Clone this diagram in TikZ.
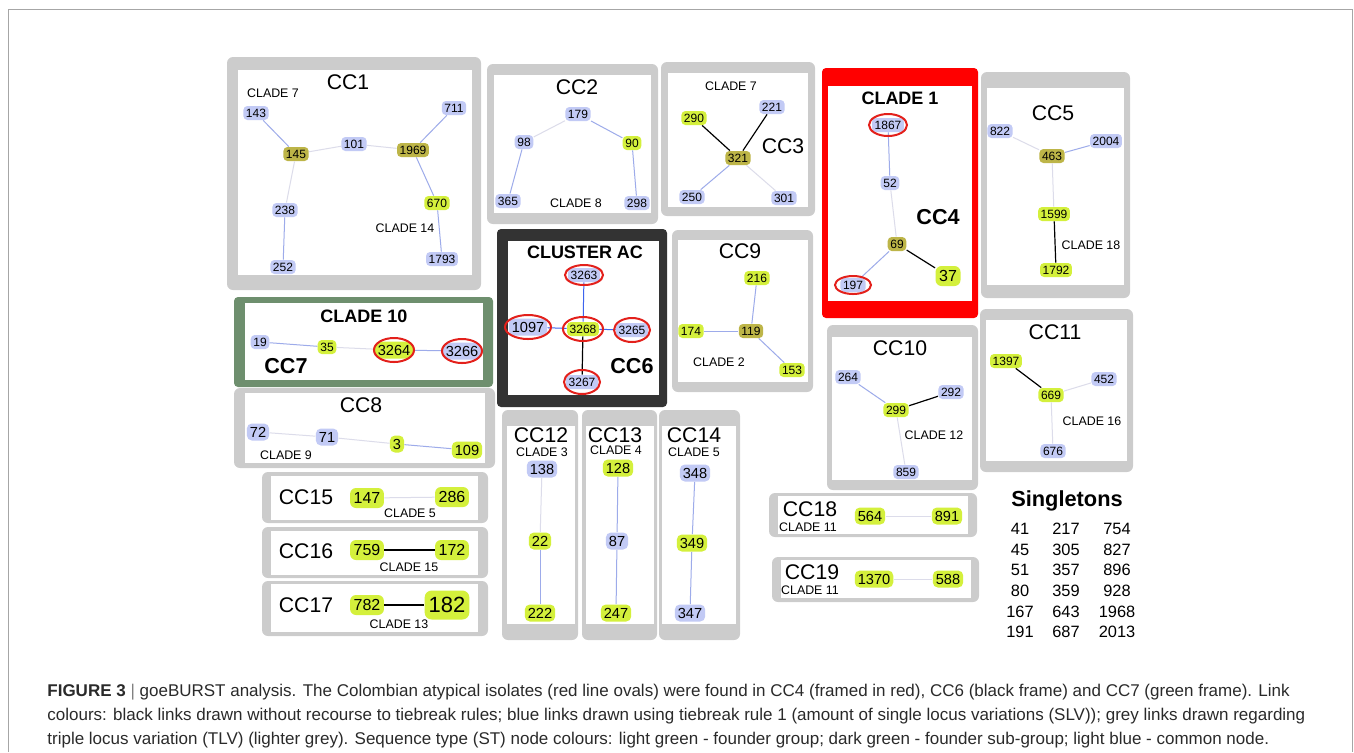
\documentclass[tikz,border=0pt]{standalone}
\usepackage{fontspec}
\setmainfont{Liberation Sans}
\definecolor{Frame}{HTML}{CCCCCC}
\definecolor{RedFrame}{HTML}{FF0000}
\definecolor{GreenFrame}{HTML}{6E8F6E}
\definecolor{BlackFrame}{HTML}{333333}
\definecolor{NodeBlue}{HTML}{C2CAF5}
\definecolor{NodeGreen}{HTML}{D4F03C}
\definecolor{NodeOlive}{HTML}{BDB548}
\definecolor{LinkBlue}{HTML}{9DABEA}
\definecolor{LinkStrong}{HTML}{3D64EE}
\definecolor{LinkGrey}{HTML}{DCDCEA}
\definecolor{RingRed}{HTML}{E3201B}
\definecolor{CapText}{HTML}{2A2A2A}
\tikzset{
    frame/.style={fill=Frame, rounded corners=3pt},
    inner/.style={fill=white},
    st/.style={rectangle, rounded corners=2pt, inner xsep=1.3pt, inner ysep=0pt, minimum height=7pt, text=black, font=\fontsize{6}{6}\selectfont},
    common/.style={st, fill=NodeBlue},
    founder/.style={st, fill=NodeGreen},
    subfounder/.style={st, fill=NodeOlive},
    mid/.style={font=\fontsize{7.3}{8}\selectfont, minimum height=8.5pt, inner xsep=1.5pt, rounded corners=2.5pt},
    big/.style={font=\fontsize{8}{9}\selectfont, minimum height=10pt, inner xsep=1.8pt, rounded corners=3pt},
    huge/.style={font=\fontsize{11}{12}\selectfont, minimum height=14.5pt, inner xsep=2pt, rounded corners=3.5pt},
    ccname/.style={font=\fontsize{10.6}{12}\selectfont, inner sep=0.5pt},
    ccbold/.style={font=\bfseries\fontsize{10.8}{12}\selectfont, inner sep=0.5pt},
    clade/.style={font=\fontsize{6.2}{7}\selectfont, inner sep=0.5pt},
    cladebold/.style={font=\bfseries\fontsize{9}{10}\selectfont, inner sep=0.5pt},
    slv/.style={draw=LinkBlue, line width=0.5pt},
    slvdark/.style={draw=LinkStrong, line width=0.5pt},
    tlv/.style={draw=LinkGrey, line width=0.5pt},
    direct/.style={draw=black, line width=0.6pt},
    ring/.style={draw=RingRed, line width=1pt},
    singlenum/.style={font=\fontsize{8.2}{9}\selectfont},
    caption/.style={font=\fontsize{8.5}{10}\selectfont, text=CapText, inner sep=0pt},
}
\begin{document}
\begin{tikzpicture}[x=0.5pt, y=-0.5pt]
    \useasboundingbox (0,0) rectangle (1354,752);
    % outer frame
    \draw[gray!70, line width=0.5pt] (8.5,752) -- (8.5,9) -- (1352.5,9) -- (1352.5,752);

    % boxes
    \fill[frame] (227,57) rectangle (481,290);   \fill[inner] (238,70) rectangle (472,275);
    \fill[frame] (487,64) rectangle (658,224);   \fill[inner] (494,75) rectangle (651,213);
    \fill[frame] (661,62) rectangle (815,216);   \fill[inner] (668,73) rectangle (808,207);
    \fill[RedFrame, rounded corners=2pt] (822,68) rectangle (978,318); \fill[inner] (828,86) rectangle (972,301);
    \fill[frame] (981,72) rectangle (1130,298);  \fill[inner] (987,88) rectangle (1124,285);
    \fill[GreenFrame, rounded corners=2pt] (234,297) rectangle (493,387); \fill[inner] (245,303) rectangle (483,380);
    \fill[BlackFrame, rounded corners=2pt] (497,229) rectangle (667,407); \fill[inner] (508,241) rectangle (659,395);
    \fill[frame] (672,230) rectangle (813,392);  \fill[inner] (678,240) rectangle (808,382);
    \fill[frame] (827,325) rectangle (978,490);  \fill[inner] (832,337) rectangle (972,480);
    \fill[frame] (980,309) rectangle (1133,472); \fill[inner] (986,320) rectangle (1127,461);
    \fill[frame] (234,388) rectangle (495,468);  \fill[inner] (245,393) rectangle (485,463);
    \fill[frame] (262,472) rectangle (488,523);  \fill[inner] (271,476) rectangle (478,520);
    \fill[frame] (262,527) rectangle (488,578);  \fill[inner] (271,531) rectangle (478,575);
    \fill[frame] (262,581) rectangle (488,636);  \fill[inner] (271,584) rectangle (478,632);
    \fill[frame] (502,410) rectangle (578,640);  \fill[inner] (507,426) rectangle (575,624);
    \fill[frame] (582,410) rectangle (657,640);  \fill[inner] (586,426) rectangle (654,624);
    \fill[frame] (659,410) rectangle (740,640);  \fill[inner] (662,426) rectangle (736,624);
    \fill[frame] (769,493) rectangle (977,537);  \fill[inner] (778,496) rectangle (968,534);
    \fill[frame] (772,557) rectangle (979,602);  \fill[inner] (781,560) rectangle (971,598);

    % CC1
    \node[ccname] (cc1) at (348,82) {CC1};
    \node[clade] (cl7a) at (273,93) {CLADE 7};
    \node[clade] (cl14) at (405,228) {CLADE 14};
    \node[common] (n143) at (256,113) {143};
    \node[common] (n711) at (454,108) {711};
    \node[subfounder] (n145) at (296,154) {145};
    \node[common] (n101) at (354,144) {101};
    \node[subfounder] (n1969) at (413,150) {1969};
    \node[founder] (n670) at (437,203) {670};
    \node[common] (n238) at (285,210) {238};
    \node[common] (n252) at (283,267) {252};
    \node[common] (n1793) at (442,259) {1793};
    \draw[slv] (n143) -- (n145);
    \draw[tlv] (n145) -- (n101) -- (n1969);
    \draw[slv] (n1969) -- (n711);
    \draw[slv] (n1969) -- (n670) -- (n1793);
    \draw[tlv] (n145) -- (n238);
    \draw[slv] (n238) -- (n252);

    % CC2
    \node[ccname] (cc2) at (577,87) {CC2};
    \node[clade] (cl8) at (576,203) {CLADE 8};
    \node[common] (n179) at (578,114) {179};
    \node[common] (n98) at (524,142) {98};
    \node[founder] (n90) at (632,143) {90};
    \node[common] (n365) at (508,201) {365};
    \node[common] (n298) at (637,203) {298};
    \draw[tlv] (n179) -- (n98);
    \draw[slv] (n179) -- (n90) -- (n298);
    \draw[slv] (n98) -- (n365);

    % CC3
    \node[ccname] (cc3) at (783,146) {CC3};
    \node[clade] (cl7b) at (731,86) {CLADE 7};
    \node[founder] (n290) at (694,118) {290};
    \node[common] (n221) at (772,107) {221};
    \node[subfounder] (n321) at (738,158) {321};
    \node[common] (n250) at (692,197) {250};
    \node[common] (n301) at (784,198) {301};
    \draw[direct] (n290) -- (n321) -- (n221);
    \draw[slv] (n321) -- (n250);
    \draw[tlv] (n321) -- (n301);

    % CC4 (red frame)
    \node[cladebold] (cl1) at (900,98) {CLADE 1};
    \node[ccbold] (cc4) at (938,217) {CC4};
    \node[common] (n1867) at (888,125) {1867};
    \node[common] (n52) at (890,183) {52};
    \node[subfounder] (n69) at (897,244) {69};
    \node[founder, big] (n37) at (948,276) {37};
    \node[common] (n197) at (853,285) {197};
    \draw[slv] (n1867) -- (n52);
    \draw[tlv] (n52) -- (n69);
    \draw[slv] (n69) -- (n197);
    \draw[direct] (n69) -- (n37);
    \draw[ring] (n1867) ellipse (19 and 11);
    \draw[ring] (n197) ellipse (18 and 9);

    % CC5
    \node[ccname] (cc5) at (1053,113) {CC5};
    \node[clade] (cl18) at (1091,245) {CLADE 18};
    \node[common] (n822) at (1000,131) {822};
    \node[common] (n2004) at (1106,141) {2004};
    \node[subfounder] (n463) at (1052,156) {463};
    \node[founder] (n1599) at (1054,214) {1599};
    \node[founder] (n1792) at (1056,270) {1792};
    \draw[tlv] (n822) -- (n463);
    \draw[slv] (n463) -- (n2004);
    \draw[tlv] (n463) -- (n1599);
    \draw[direct] (n1599) -- (n1792);

    % CC7 (green frame)
    \node[cladebold] (cl10) at (364,316) {CLADE 10};
    \node[ccbold] (cc7) at (286,366) {CC7};
    \node[common] (n19) at (260,342) {19};
    \node[founder] (n35) at (327,347) {35};
    \node[founder, mid] (n3264) at (394,350) {3264};
    \node[common, mid] (n3266) at (462,351) {3266};
    \draw[slv] (n19) -- (n35);
    \draw[tlv] (n35) -- (n3264);
    \draw[slv] (n3264) -- (n3266);
    \draw[ring] (n3264) ellipse (20 and 12);
    \draw[ring] (n3266) ellipse (20 and 12);

    % CC6 (black frame)
    \node[cladebold] (clac) at (585,252) {CLUSTER AC};
    \node[ccbold] (cc6) at (632,366) {CC6};
    \node[common] (n3263) at (584,275) {3263};
    \node[common, mid] (n1097) at (528,327) {1097};
    \node[founder] (n3268) at (583,329) {3268};
    \node[common] (n3265) at (632,330) {3265};
    \node[common] (n3267) at (582,382) {3267};
    \draw[slvdark] (n3263) -- (n3268);
    \draw[slvdark] (n1097) -- (n3268) -- (n3265);
    \draw[direct] (n3268) -- (n3267);
    \draw[ring] (n3263) ellipse (19 and 10);
    \draw[ring] (n1097) ellipse (23 and 12);
    \draw[ring] (n3268) ellipse (20 and 12);
    \draw[ring] (n3265) ellipse (18 and 12);
    \draw[ring] (n3267) ellipse (18 and 12);

    % CC9
    \node[ccname] (cc9) at (740,251) {CC9};
    \node[clade] (cl2) at (719,362) {CLADE 2};
    \node[founder] (n216) at (757,278) {216};
    \node[founder] (n174) at (691,331) {174};
    \node[subfounder] (n119) at (751,331) {119};
    \node[founder] (n153) at (792,370) {153};
    \draw[slv] (n216) -- (n119) -- (n153);
    \draw[slv] (n174) -- (n119);

    % CC10
    \node[ccname] (cc10) at (900,348) {CC10};
    \node[clade] (cl12) at (934,435) {CLADE 12};
    \node[common] (n264) at (848,377) {264};
    \node[common] (n292) at (951,392) {292};
    \node[founder] (n299) at (896,410) {299};
    \node[common] (n859) at (906,472) {859};
    \draw[slv] (n264) -- (n299);
    \draw[direct] (n299) -- (n292);
    \draw[tlv] (n299) -- (n859);

    % CC11
    \node[ccname] (cc11) at (1055,332) {CC11};
    \node[clade] (cl16) at (1092,421) {CLADE 16};
    \node[founder] (n1397) at (1006,361) {1397};
    \node[common] (n452) at (1104,379) {452};
    \node[founder] (n669) at (1051,395) {669};
    \node[common] (n676) at (1053,451) {676};
    \draw[direct] (n1397) -- (n669);
    \draw[tlv] (n669) -- (n452);
    \draw[tlv] (n669) -- (n676);

    % CC8
    \node[ccname] (cc8) at (361,405) {CC8};
    \node[clade] (cl9) at (286,455) {CLADE 9};
    \node[common, mid] (n72) at (258,432) {72};
    \node[common, mid] (n71) at (327,437) {71};
    \node[founder, mid] (n3) at (397,444) {3};
    \node[founder, mid] (n109) at (467,450) {109};
    \draw[tlv] (n72) -- (n71) -- (n3);
    \draw[slv] (n3) -- (n109);

    % CC15, CC16, CC17
    \node[ccname] (cc15) at (306,497) {CC15};
    \node[clade] (cl5a) at (410,513) {CLADE 5};
    \node[founder, big] (n147) at (367,498) {147};
    \node[founder, big] (n286) at (452,497) {286};
    \draw[tlv] (n147) -- (n286);
    \node[ccname] (cc16) at (306,551) {CC16};
    \node[clade] (cl15) at (409,567) {CLADE 15};
    \node[founder, big] (n759) at (367,550) {759};
    \node[founder, big] (n172) at (452,550) {172};
    \draw[direct] (n759) -- (n172);
    \node[ccname] (cc17) at (306,605) {CC17};
    \node[clade] (cl13) at (399,624) {CLADE 13};
    \node[founder, big] (n782) at (367,605) {782};
    \node[founder, huge] (n182) at (447,605) {182};
    \draw[direct] (n782) -- (n182);

    % CC12, CC13, CC14
    \node[ccname] (cc12) at (541,435) {CC12};
    \node[clade] (cl3) at (542,452) {CLADE 3};
    \node[common, mid] (n138) at (542,469) {138};
    \node[founder, mid] (n22) at (540,541) {22};
    \node[founder, mid] (n222) at (540,613) {222};
    \draw[tlv] (n138) -- (n22);
    \draw[slv] (n22) -- (n222);
    \node[ccname] (cc13) at (615,435) {CC13};
    \node[clade] (cl4) at (616,450) {CLADE 4};
    \node[founder, mid] (n128) at (618,468) {128};
    \node[common, mid] (n87) at (617,541) {87};
    \node[founder, mid] (n247) at (616,613) {247};
    \draw[slv] (n128) -- (n87) -- (n247);
    \node[ccname] (cc14) at (694,435) {CC14};
    \node[clade] (cl5b) at (694,452) {CLADE 5};
    \node[common, mid] (n348) at (695,473) {348};
    \node[founder, mid] (n349) at (692,543) {349};
    \node[common, mid] (n347) at (690,613) {347};
    \draw[slv] (n348) -- (n349) -- (n347);

    % CC18, CC19
    \node[ccname] (cc18) at (810,509) {CC18};
    \node[clade] (cl11a) at (808,527) {CLADE 11};
    \node[founder, mid] (n564) at (870,516) {564};
    \node[founder, mid] (n891) at (947,516) {891};
    \draw[tlv] (n564) -- (n891);
    \node[ccname] (cc19) at (812,572) {CC19};
    \node[clade] (cl11b) at (810,590) {CLADE 11};
    \node[founder, mid] (n1370) at (874,579) {1370};
    \node[founder, mid] (n588) at (948,579) {588};
    \draw[tlv] (n1370) -- (n588);

    % Singletons
    \node[font=\bfseries\fontsize{10.9}{12}\selectfont] (single) at (1067,501) {Singletons};
    \foreach \a/\b/\c [count=\i] in {41/217/754, 45/305/827, 51/357/896, 80/359/928, 167/643/1968, 191/687/2013} {
        \node[singlenum] (sa\i) at (1020,508.4+20.6*\i) {\a};
        \node[singlenum] (sb\i) at (1066,508.4+20.6*\i) {\b};
        \node[singlenum] (sc\i) at (1117,508.4+20.6*\i) {\c};
    }

    % caption
    \node[caption, anchor=base west] (cap1) at (47,696) {\textbf{FIGURE 3} {\color{gray}|} goeBURST analysis. The Colombian atypical isolates (red line ovals) were found in CC4 (framed in red), CC6 (black frame) and CC7 (green frame). Link};
    \node[caption, anchor=base west] (cap2) at (47,720) {colours: black links drawn without recourse to tiebreak rules; blue links drawn using tiebreak rule 1 (amount of single locus variations (SLV)); grey links drawn regarding};
    \node[caption, anchor=base west] (cap3) at (47,744) {triple locus variation (TLV) (lighter grey). Sequence type (ST) node colours: light green - founder group; dark green - founder sub-group; light blue - common node.};
\end{tikzpicture}
\end{document}
